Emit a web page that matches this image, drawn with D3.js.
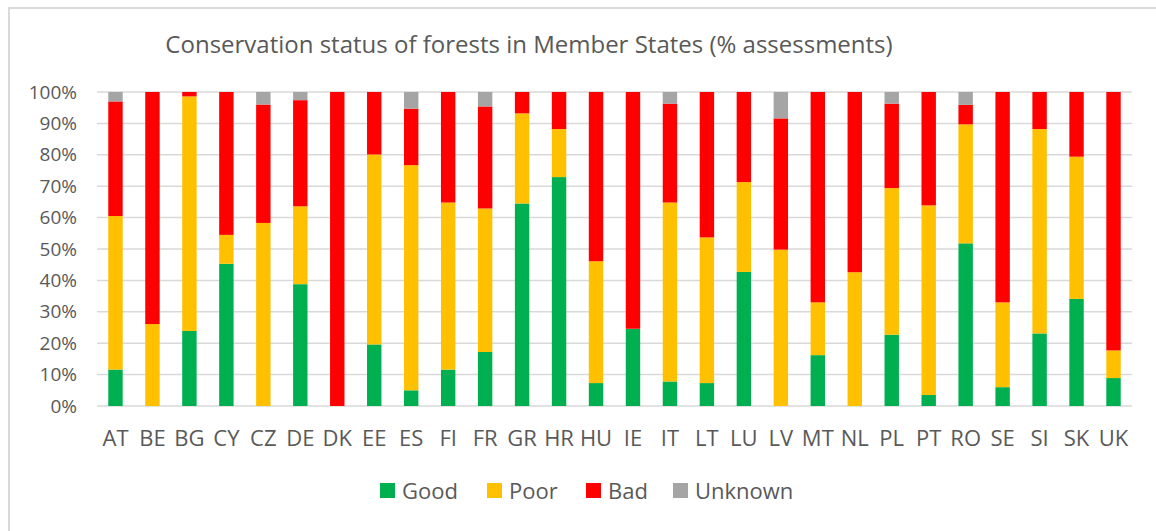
<!DOCTYPE html>
<html>
<head>
<meta charset="utf-8">
<script src="https://cdn.jsdelivr.net/npm/d3@7"></script>
<style>
  body { margin: 0; background: #fff; }
  text { font-family: "Open Sans", sans-serif; fill: #595959; }
</style>
</head>
<body>
<svg id="chart" width="1156" height="531"></svg>
<script>
// data (% of assessments)
const countries = ["AT","BE","BG","CY","CZ","DE","DK","EE","ES","FI","FR","GR","HR","HU",
                   "IE","IT","LT","LU","LV","MT","NL","PL","PT","RO","SE","SI","SK","UK"];
const good    = [11.6, 0, 23.9, 45.3, 0, 38.8, 0, 19.6, 5.0, 11.6, 17.2, 64.5, 72.9, 7.3,
                 24.6, 7.8, 7.3, 42.7, 0, 16.2, 0, 22.7, 3.5, 51.8, 6.0, 23.1, 34.1, 8.9];
const poor    = [48.9, 26.1, 74.7, 9.2, 58.3, 24.8, 0, 60.5, 71.7, 53.2, 45.7, 28.7, 15.3, 38.8,
                 0, 57.0, 46.4, 28.6, 49.8, 16.8, 42.6, 46.7, 60.4, 37.9, 27.0, 65.1, 45.3, 8.8];
const bad     = [36.5, 73.9, 1.4, 45.5, 37.7, 33.8, 100, 19.9, 18.0, 35.2, 32.5, 6.8, 11.8, 53.9,
                 75.4, 31.5, 46.3, 28.7, 41.8, 67.0, 57.4, 26.9, 36.1, 6.2, 67.0, 11.8, 20.6, 82.3];
const unknown = [3.0, 0, 0, 0, 4.0, 2.6, 0, 0, 5.3, 0, 4.6, 0, 0, 0,
                 0, 3.7, 0, 0, 8.4, 0, 0, 3.7, 0, 4.1, 0, 0, 0, 0];
const seriesNames = ["Good", "Poor", "Bad", "Unknown"];
const seriesColors = ["#00b050", "#ffc000", "#ff0000", "#a5a5a5"];
const yTicks = [0, 10, 20, 30, 40, 50, 60, 70, 80, 90, 100];

const rows = countries.map((c, i) => ({
  country: c, Good: good[i], Poor: poor[i], Bad: bad[i], Unknown: unknown[i]
}));

const svg = d3.select("#chart");
const margin = { top: 92, right: 24, bottom: 125, left: 97 };
const width = 1156 - margin.left - margin.right;
const height = 531 - margin.top - margin.bottom;

// chart border
svg.append("rect")
  .attr("x", 9).attr("y", 8)
  .attr("width", 1160).attr("height", 540)
  .attr("fill", "none")
  .attr("stroke", "#d9d9d9")
  .attr("stroke-width", 2);

svg.append("text")
  .attr("x", 529).attr("y", 53)
  .attr("text-anchor", "middle")
  .style("font-size", "24px")
  .text("Conservation status of forests in Member States (% assessments)");

const g = svg.append("g")
  .attr("transform", "translate(" + margin.left + "," + margin.top + ")");

const x = d3.scaleBand()
  .domain(countries)
  .range([0, width])
  .paddingInner(0.61)
  .paddingOuter(0.305);

const y = d3.scaleLinear()
  .domain([0, 100])
  .range([height, 0]);

// gridlines
g.append("g")
  .selectAll("line")
  .data(yTicks)
  .enter()
  .append("line")
  .attr("x1", 0).attr("x2", width)
  .attr("y1", d => y(d)).attr("y2", d => y(d))
  .attr("stroke", "#d9d9d9")
  .attr("stroke-width", 1.5);

// y axis labels
const yAxis = g.append("g")
  .call(d3.axisLeft(y).tickValues(yTicks).tickFormat(d => d + "%").tickSize(0).tickPadding(20));
yAxis.select(".domain").remove();
yAxis.selectAll("text")
  .style("font-size", "19px")
  .style("font-family", "'Open Sans', sans-serif")
  .attr("fill", "#595959");

// stacked bars
const stack = d3.stack().keys(seriesNames);
const layers = stack(rows);

g.selectAll(".layer")
  .data(layers)
  .enter()
  .append("g")
  .attr("class", "layer")
  .attr("fill", (d, i) => seriesColors[i])
  .selectAll("rect")
  .data(d => d)
  .enter()
  .append("rect")
  .attr("x", d => x(d.data.country))
  .attr("y", d => y(d[1]))
  .attr("width", x.bandwidth())
  .attr("height", d => y(d[0]) - y(d[1]));

// x axis
const xAxis = g.append("g")
  .attr("transform", "translate(0," + height + ")")
  .call(d3.axisBottom(x).tickSize(0).tickPadding(24));
xAxis.select(".domain").remove();
xAxis.selectAll("text")
  .style("font-size", "22px")
  .style("font-family", "'Open Sans', sans-serif")
  .attr("fill", "#595959");

// legend
const legendX = [380, 487, 586, 673];
const legend = svg.append("g").attr("transform", "translate(0,483)");
const items = legend.selectAll("g")
  .data(seriesNames)
  .enter()
  .append("g")
  .attr("transform", (d, i) => "translate(" + legendX[i] + ",0)");
items.append("rect")
  .attr("width", 15).attr("height", 15)
  .attr("fill", (d, i) => seriesColors[i]);
items.append("text")
  .attr("x", 22).attr("y", 16)
  .style("font-size", "22px")
  .text(d => d);
</script>
</body>
</html>
